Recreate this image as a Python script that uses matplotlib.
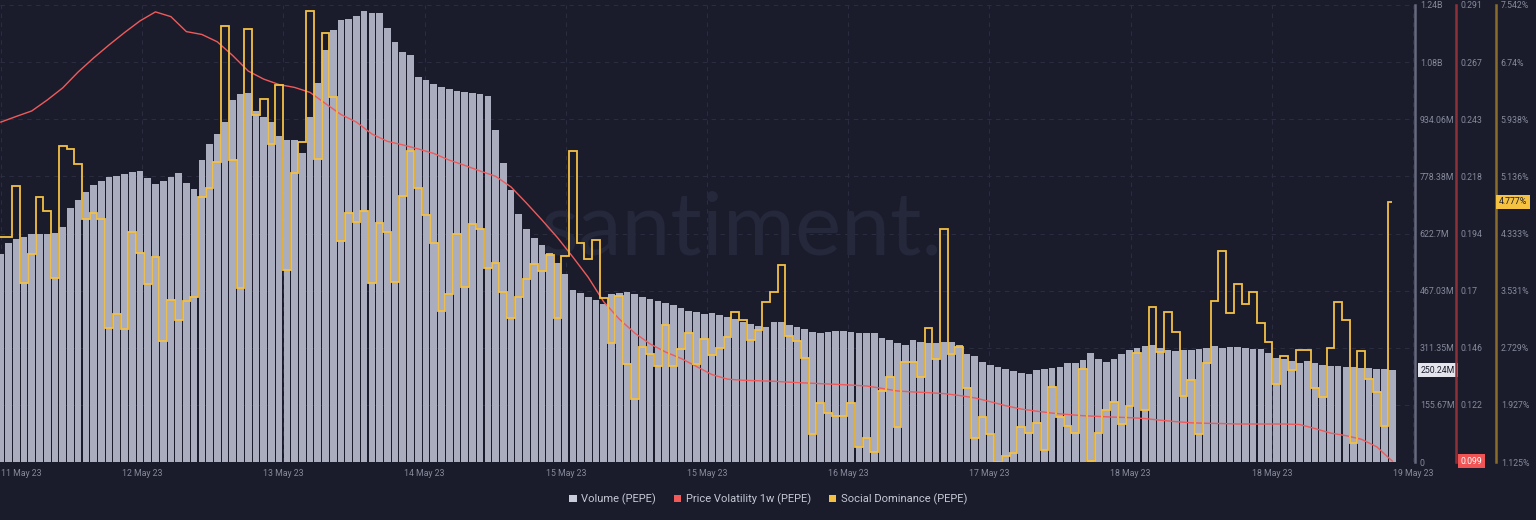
import numpy as np
import matplotlib
matplotlib.use("Agg")
import matplotlib.pyplot as plt
import matplotlib.transforms as mtrans
from matplotlib.patches import Patch

plt.rcParams['font.family'] = ['Roboto', 'DejaVu Sans']

# date labels as santiment prints them (some repeat)
date_labels = ['11 May 23', '12 May 23', '13 May 23', '14 May 23', '15 May 23', '15 May 23',
               '16 May 23', '17 May 23', '18 May 23', '18 May 23', '19 May 23']

# hourly volume, millions
volume_m = [567, 597, 608, 613, 621, 621, 621, 624, 640, 692,
            714, 736, 755, 766, 777, 779, 785, 790, 793, 774,
            758, 766, 777, 788, 760, 744, 823, 867, 894, 927,
            986, 1003, 1006, 956, 940, 927, 888, 877, 877, 842,
            940, 1033, 1123, 1177, 1204, 1207, 1215, 1229, 1224, 1224,
            1183, 1145, 1117, 1109, 1049, 1041, 1030, 1022, 1016, 1011,
            1008, 1006, 1003, 997, 905, 815, 741, 676, 635, 610,
            591, 570, 542, 512, 469, 461, 450, 441, 431, 458,
            461, 463, 458, 450, 444, 439, 433, 428, 420, 411,
            409, 403, 406, 401, 395, 390, 382, 376, 371, 368,
            382, 382, 373, 368, 362, 354, 352, 354, 357, 357,
            354, 352, 352, 352, 338, 332, 324, 319, 332, 327,
            324, 324, 327, 327, 319, 294, 289, 273, 264, 259,
            253, 248, 243, 240, 251, 253, 256, 259, 270, 270,
            278, 297, 281, 273, 281, 294, 305, 311, 316, 319,
            311, 305, 302, 305, 305, 308, 311, 316, 311, 313,
            313, 311, 308, 308, 297, 283, 281, 275, 270, 275,
            270, 264, 262, 262, 259, 259, 256, 256, 253, 253,
            250.24]

# hourly social dominance, %
social_dom = [4.284, 4.284, 5.001, 3.639, 4.046, 4.846, 4.650, 3.709, 5.562, 5.520,
              5.309, 4.537, 4.621, 4.537, 3.007, 3.203, 2.993, 4.355, 4.060, 3.624,
              4.004, 2.824, 3.400, 3.119, 3.386, 3.442, 4.846, 4.973, 5.338, 7.247,
              5.366, 3.568, 7.205, 5.998, 6.222, 5.590, 6.419, 3.821, 5.183, 5.618,
              7.458, 5.380, 7.149, 6.250, 4.228, 4.621, 4.495, 4.650, 3.639, 4.481,
              4.355, 3.653, 4.860, 5.492, 4.973, 4.593, 4.200, 3.245, 3.484, 4.327,
              3.582, 4.467, 4.397, 3.849, 3.919, 3.512, 3.147, 3.442, 3.695, 3.905,
              3.807, 4.032, 3.147, 4.018, 5.492, 4.200, 3.976, 4.242, 3.428, 2.796,
              3.456, 2.501, 2.010, 2.740, 2.642, 2.473, 3.049, 2.473, 2.712, 2.936,
              2.501, 2.852, 2.627, 2.726, 2.880, 3.231, 3.119, 2.838, 2.979, 3.372,
              3.512, 3.891, 2.894, 2.824, 2.585, 1.518, 1.953, 1.813, 1.771, 1.771,
              1.953, 1.336, 1.462, 1.265, 2.122, 2.319, 1.616, 2.529, 2.529, 2.319,
              3.007, 2.571, 4.397, 2.642, 2.740, 2.164, 1.462, 1.757, 1.518, 1.12,
              1.209, 1.251, 1.616, 1.532, 1.673, 1.294, 2.178, 1.757, 1.631, 1.532,
              2.431, 1.139, 1.532, 1.855, 1.968, 1.659, 1.911, 2.656, 1.855, 3.302,
              2.670, 3.231, 2.950, 2.052, 2.276, 1.518, 2.515, 3.386, 4.088, 3.217,
              3.624, 3.344, 3.512, 3.077, 2.810, 2.220, 2.613, 2.417, 2.698, 2.698,
              2.164, 2.038, 2.726, 3.372, 3.119, 1.392, 2.684, 2.290, 2.108, 1.631,
              4.777]

# price volatility 1w, every 2 hours
volatility = [0.2417, 0.2441, 0.2464, 0.2510, 0.2561, 0.2628, 0.2687, 0.2742, 0.2794, 0.2843,
              0.2881, 0.2861, 0.2798, 0.2786, 0.2755, 0.2697, 0.2632, 0.2598, 0.2575, 0.2563,
              0.2542, 0.2495, 0.2449, 0.2417, 0.2367, 0.2336, 0.2321, 0.2304, 0.2285, 0.2257,
              0.2235, 0.2211, 0.2189, 0.2144, 0.2076, 0.2005, 0.1931, 0.1849, 0.1763, 0.1660,
              0.1588, 0.1529, 0.1483, 0.1449, 0.1422, 0.1388, 0.1354, 0.1335, 0.1330, 0.1328,
              0.1326, 0.1322, 0.1319, 0.1316, 0.1313, 0.1310, 0.1306, 0.1296, 0.1285, 0.1281,
              0.1278, 0.1274, 0.1266, 0.1256, 0.1240, 0.1223, 0.1209, 0.1200, 0.1192, 0.1186,
              0.1181, 0.1178, 0.1175, 0.1173, 0.1169, 0.1162, 0.1156, 0.1151, 0.1149, 0.1148,
              0.1146, 0.1146, 0.1146, 0.1146, 0.1144, 0.1127, 0.1108, 0.1097, 0.1082, 0.1050,
              0.0990]

vol_labels = ['0', '155.67M', '311.35M', '467.03M', '622.7M', '778.38M', '934.06M', '1.08B', '1.24B']
pv_labels = ['', '0.122', '0.146', '0.17', '0.194', '0.218', '0.243', '0.267', '0.291']
sd_labels = ['1.125%', '1.927%', '2.729%', '3.531%', '4.333%', '5.136%', '5.938%', '6.74%', '7.542%']

BG = '#1a1c2c'
TXT = '#868a9b'

fig = plt.figure(figsize=(15.36, 5.2), dpi=100, facecolor=BG)
ax = fig.add_axes([0, 0.1115, 0.9212, 0.8789])
ax.set_facecolor(BG)

hours = np.arange(len(volume_m))
ax.bar(hours + 0.5, volume_m, width=0.86, color='#a9adbd', linewidth=0, zorder=2)
ax.set_xlim(0.39, 183.44)
ax.set_ylim(0, 8 * 155.675)

# watermark
ax.text(0.524, 0.453, 'santiment.', transform=ax.transAxes, ha='center', va='baseline',
        fontsize=63, family=['Lato', 'DejaVu Sans'], color='#24283a', zorder=1)

ax2 = ax.twinx()
ax2.plot(np.arange(0, len(social_dom), 2) + 0.5, volatility, color='#f05a5a', lw=1.0)
ax2.set_ylim(0.0986, 0.291)

ax3 = ax.twinx()
edges = np.arange(len(social_dom) + 1, dtype=float)
edges[-1] = len(social_dom) - 0.5
ax3.stairs(social_dom, edges, baseline=None, color='#f3c044', lw=1.3)
ax3.set_ylim(1.125, 7.542)

# axes styling
ax.yaxis.tick_right()
ax.set_yticks(np.arange(9) * 155.675)
ax.set_yticklabels(vol_labels)
ax.set_xticks(np.linspace(0.52, 183.2, 11))
ax.set_xticklabels(date_labels)
ax.get_xticklabels()[0].set_ha('left')
ax.tick_params(axis='x', length=0, pad=5, labelsize=6.3, labelcolor=TXT)
ax.tick_params(axis='y', length=0, pad=3.5, labelsize=6.3, labelcolor=TXT)
ax.grid(True, color='#2a2d40', linestyle=(0, (4, 4)), linewidth=0.8)
ax.set_axisbelow(True)
for s in ['top', 'left', 'bottom']:
    ax.spines[s].set_visible(False)
ax.spines['right'].set_color('#676a7d')
ax.spines['right'].set_linewidth(1.8)

ax2.set_yticks(0.0986 + np.arange(9) * 0.02405)
ax2.set_yticklabels(pv_labels)
ax3.set_yticks(1.125 + np.arange(9) * 0.802125)
ax3.set_yticklabels(sd_labels)
for a, pos, col in [(ax2, 1456 / 1415, '#8e3038'), (ax3, 1496 / 1415, '#8a6c2a')]:
    for s in ['top', 'left', 'bottom']:
        a.spines[s].set_visible(False)
    a.spines['right'].set_position(('axes', pos))
    a.spines['right'].set_color(col)
    a.spines['right'].set_linewidth(1.8)
    a.tick_params(axis='y', length=0, pad=3.5, labelsize=6.3, labelcolor=TXT)

# last value badges
ax.text(1.0042, volume_m[-1], '250.24M', fontsize=6.3, color='#1a1c2c', ha='left', va='center',
        transform=mtrans.blended_transform_factory(ax.transAxes, ax.transData), clip_on=False,
        bbox=dict(boxstyle='square,pad=0.3', fc='#e4e5ec', ec='none'), zorder=10)
ax2.text(1.0325, volatility[-1], '0.099', fontsize=6.3, color='white', ha='left', va='center',
         transform=mtrans.blended_transform_factory(ax2.transAxes, ax2.transData), clip_on=False,
         bbox=dict(boxstyle='square,pad=0.3', fc='#f05454', ec='none'), zorder=10)
ax3.text(1.0594, social_dom[-1], '4.777%', fontsize=6.3, color='#1a1c2c', ha='left', va='center',
         transform=mtrans.blended_transform_factory(ax3.transAxes, ax3.transData), clip_on=False,
         bbox=dict(boxstyle='square,pad=0.3', fc='#f5c242', ec='none'), zorder=10)

handles = [Patch(fc='#c9ccda'), Patch(fc='#f25a5a'), Patch(fc='#f3c044')]
fig.legend(handles, ['Volume (PEPE)', 'Price Volatility 1w (PEPE)', 'Social Dominance (PEPE)'],
           loc='center', bbox_to_anchor=(0.5, 0.04), ncol=3, frameon=False, fontsize=8,
           handlelength=0.7, handleheight=0.7, handletextpad=0.4, columnspacing=1.6,
           labelcolor='#c5c8d4')

fig.savefig('out.png', dpi=100, facecolor=BG)
